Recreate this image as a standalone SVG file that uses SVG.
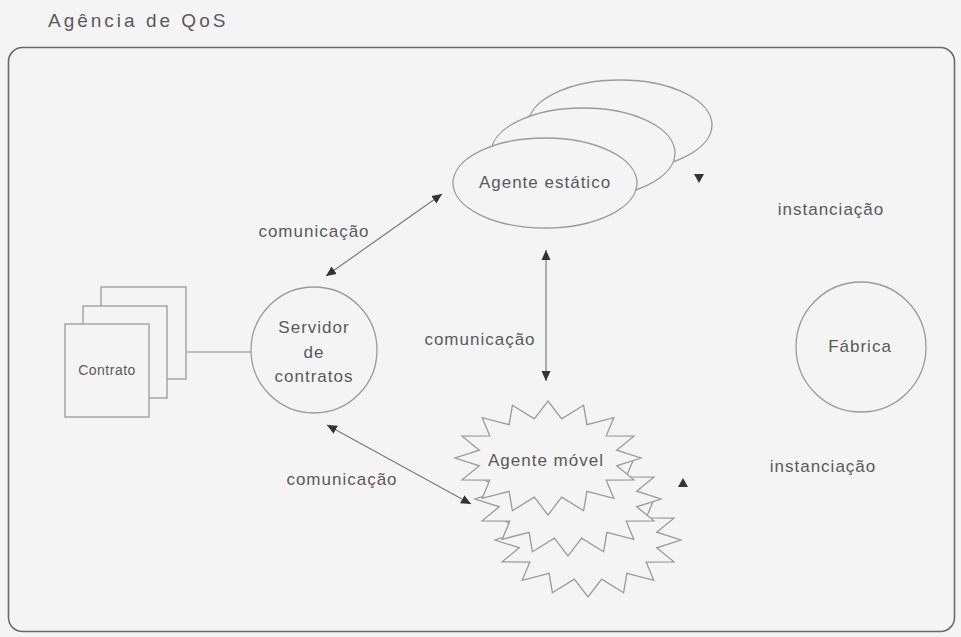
<svg xmlns="http://www.w3.org/2000/svg" xmlns:xlink="http://www.w3.org/1999/xlink" width="961" height="637" viewBox="0 0 961 637">
<style>
text{font-family:"Liberation Sans",Arial,sans-serif;fill:#5a5a5a;font-size:17px;letter-spacing:1px}
.shape{fill:#f4f4f4;stroke:#9a9a9a;stroke-width:1.3}
.conn{stroke:#7a7a7a;stroke-width:1.2;fill:none;marker-start:url(#ah);marker-end:url(#ah)}
.head{fill:#333}
</style>
<defs>
<marker id="ah" viewBox="0 0 10 10" refX="10" refY="5" markerWidth="10" markerHeight="10" markerUnits="userSpaceOnUse" orient="auto-start-reverse">
<path d="M0,0.5 L10,5 L0,9.5 Z" fill="#333"/>
</marker>
<polygon id="star" points="0,-57 13.7,-39.2 35.6,-52.7 38.9,-33.3 65.8,-40.3 58.2,-22.2 85.9,-21.8 68.7,-7.8 93,0 68.7,7.8 85.9,21.8 58.2,22.2 65.8,40.3 38.9,33.3 35.6,52.7 13.7,39.2 0,57 -13.7,39.2 -35.6,52.7 -38.9,33.3 -65.8,40.3 -58.2,22.2 -85.9,21.8 -68.7,7.8 -93,0 -68.7,-7.8 -85.9,-21.8 -58.2,-22.2 -65.8,-40.3 -38.9,-33.3 -35.6,-52.7 -13.7,-39.2"/>
</defs>
<rect width="961" height="637" fill="#f4f4f4"/>
<text x="48" y="27" style="font-size:19px;letter-spacing:3px">Agência de QoS</text>
<rect x="8.5" y="47.5" width="946" height="584" rx="14" fill="none" stroke="#6a6a6a" stroke-width="1.6"/>

<g id="connectors">
<line class="conn" x1="326" y1="276" x2="442" y2="194"/>
<line class="conn" x1="546" y1="250" x2="546" y2="381"/>
<line class="conn" x1="327" y1="425" x2="471" y2="504"/>
<line x1="186" y1="352" x2="251" y2="352" stroke="#8a8a8a" stroke-width="1.2"/>
<polygon class="head" points="694,174 704,174 699,183"/>
<polygon class="head" points="678,487 688,487 683,478"/>
</g>

<g id="contrato">
<rect class="shape" x="101" y="287" width="85" height="92"/>
<rect class="shape" x="83" y="306" width="84" height="92"/>
<rect class="shape" x="65" y="324" width="84" height="93"/>
<text x="107" y="375" text-anchor="middle" style="font-size:14px;letter-spacing:0.5px">Contrato</text>
</g>

<g id="servidor">
<circle class="shape" cx="314" cy="350" r="63"/>
<text x="314" y="333" text-anchor="middle">Servidor</text>
<text x="314" y="358" text-anchor="middle">de</text>
<text x="314" y="382" text-anchor="middle">contratos</text>
</g>

<g id="agente-estatico">
<ellipse class="shape" cx="620" cy="125" rx="92" ry="45"/>
<ellipse class="shape" cx="583" cy="153" rx="92" ry="45"/>
<ellipse class="shape" cx="545" cy="183" rx="92" ry="45"/>
<text x="545" y="188" text-anchor="middle">Agente estático</text>
</g>

<g id="agente-movel">
<use xlink:href="#star" class="shape" transform="translate(588,540)"/>
<use xlink:href="#star" class="shape" transform="translate(568,499)"/>
<use xlink:href="#star" class="shape" transform="translate(548,458)"/>
<text x="546" y="466" text-anchor="middle">Agente móvel</text>
</g>

<g id="fabrica">
<circle class="shape" cx="861" cy="347" r="65"/>
<text x="860" y="352" text-anchor="middle">Fábrica</text>
</g>

<g id="labels">
<text x="314" y="237" text-anchor="middle">comunicação</text>
<text x="480" y="345" text-anchor="middle">comunicação</text>
<text x="342" y="485" text-anchor="middle">comunicação</text>
<text x="831" y="215" text-anchor="middle">instanciação</text>
<text x="823" y="472" text-anchor="middle">instanciação</text>
</g>
</svg>
